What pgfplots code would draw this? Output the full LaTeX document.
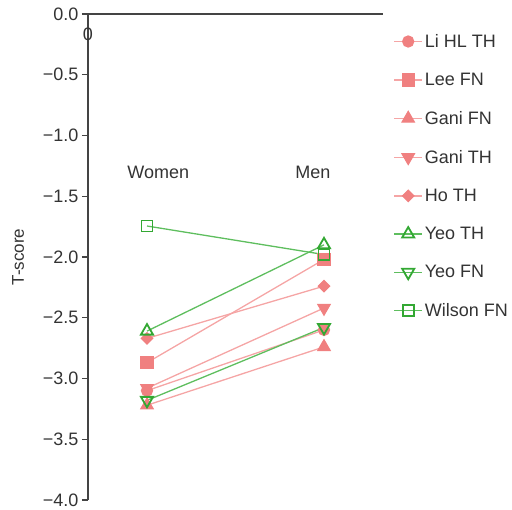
\documentclass[border=0pt]{standalone}
\usepackage{pgfplots}
\pgfplotsset{compat=1.18}
\usepackage{fontspec}
\setmainfont{Liberation Sans}
\definecolor{pk}{HTML}{F08080}
\definecolor{pkl}{HTML}{F5A5A5}
\definecolor{gr}{HTML}{33A833}
\definecolor{grl}{HTML}{5EBE5E}
\definecolor{ax}{HTML}{444444}
\definecolor{tx}{HTML}{333333}
\begin{document}
\begin{tikzpicture}
\useasboundingbox (-88pt,-10pt) rectangle (424pt,500pt);
\begin{axis}[
 scale only axis, width=295pt, height=486pt,
 xmin=0, xmax=5, ymin=-4, ymax=0,
 axis x line*=top, axis y line*=left,
 axis line style={ax, line width=1.2pt},
 xtick=\empty,
 ytick={-4,-3.5,-3,-2.5,-2,-1.5,-1,-0.5,0},
 yticklabels={−4.0,−3.5,−3.0,−2.5,−2.0,−1.5,−1.0,−0.5,0.0},
 tick style={ax, line width=1.2pt}, tick align=outside, major tick length=6pt,
 yticklabel style={font=\fontsize{18}{20}\selectfont, text=tx},
 ylabel={T-score},
 ylabel style={font=\fontsize{17}{19}\selectfont, text=tx, at={(axis description cs:-0.237,0.5)}, anchor=center},
 clip=false,
 legend style={at={(1.025,0.967)}, anchor=north west, draw=none, fill=none, font=\fontsize{18}{20}\selectfont, text=tx, row sep=20.3pt},
 legend cell align=left,
 legend image code/.code={\draw[mark repeat=2,mark phase=2] plot coordinates {(0pt,0pt)(14pt,0pt)(28pt,0pt)};},
]
\addplot[pkl, line width=1.3pt, mark=*, mark size=5.5pt, mark options={draw=pk, fill=pk}] coordinates {(1,-3.10) (4,-2.60)};
\addlegendentry{Li HL TH}
\addplot[pkl, line width=1.3pt, mark=square*, mark size=6pt, mark options={draw=pk, fill=pk}] coordinates {(1,-2.87) (4,-2.02)};
\addlegendentry{Lee FN}
\addplot[pkl, line width=1.3pt, mark=triangle*, mark size=7pt, mark options={draw=pk, fill=pk}] coordinates {(1,-3.22) (4,-2.74)};
\addlegendentry{Gani FN}
\addplot[pkl, line width=1.3pt, mark=triangle*, mark size=7pt, mark options={draw=pk, fill=pk, rotate=180}] coordinates {(1,-3.08) (4,-2.42)};
\addlegendentry{Gani TH}
\addplot[pkl, line width=1.3pt, mark=square*, mark size=4pt, mark options={draw=pk, fill=pk, rotate=45}] coordinates {(1,-2.67) (4,-2.24)};
\addlegendentry{Ho TH}
\addplot[grl, line width=1.3pt, mark=triangle, mark size=7pt, mark options={draw=gr, fill=white, line width=1.8pt}] coordinates {(1,-2.61) (4,-1.90)};
\addlegendentry{Yeo TH}
\addplot[grl, line width=1.3pt, mark=triangle, mark size=7pt, mark options={draw=gr, fill=white, line width=1.8pt, rotate=180}] coordinates {(1,-3.18) (4,-2.58)};
\addlegendentry{Yeo FN}
\addplot[grl, line width=1.3pt, mark=square, mark size=5.5pt, mark options={draw=gr, fill=white, line width=1.8pt}] coordinates {(1,-1.745) (4,-1.98)};
\addlegendentry{Wilson FN}
\node[font=\fontsize{18}{20}\selectfont, text=tx] at (axis cs:1.19,-1.3) {Women};
\node[font=\fontsize{18}{20}\selectfont, text=tx] at (axis cs:3.81,-1.3) {Men};
\node[font=\fontsize{18}{20}\selectfont, text=tx] at (axis cs:0,-0.17) {0};
\end{axis}
\end{tikzpicture}
\end{document}
